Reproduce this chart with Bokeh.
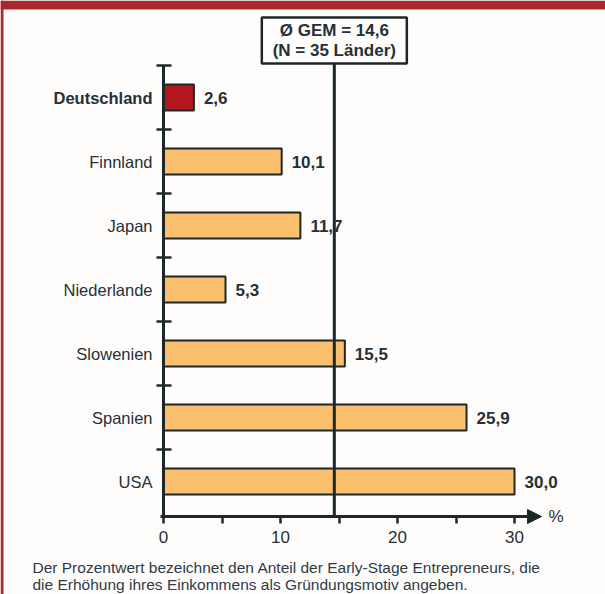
from bokeh.plotting import figure
from bokeh.models import ColumnDataSource, LinearAxis, FixedTicker, Arrow, NormalHead, Range1d
from bokeh.core.properties import value
from bokeh.embed import file_html
from bokeh.resources import INLINE

# ---------------- data ----------------
countries = ["Deutschland", "Finnland", "Japan", "Niederlande", "Slowenien", "Spanien", "USA"]
shares = [2.6, 10.1, 11.7, 5.3, 15.5, 25.9, 30.0]
highlight = ["Deutschland"]
gem_mean = 14.6
gem_countries = 35
x_ticks = [0, 10, 20, 30]
x_minor_ticks = [5, 15, 25]
axis_unit = "%"
caption = ("Der Prozentwert bezeichnet den Anteil der Early-Stage Entrepreneurs, die\n"
           "die Erhöhung ihres Einkommens als Gründungsmotiv angeben.")

# ---------------- style ----------------
W, H = 605, 594
X0_PX, PX_PER_X = 163, 11.7       # screen position of x = 0, pixels per percent
Y0_PX, PX_PER_Y = 481, 64         # screen position of last category, pixels per category
BG = "#FEFDFB"
DARK = "#1C2828"
TXT = "#263036"
ORANGE = "#FBC06E"
RED = "#B3171D"
BAND = "#A8282E"
FONT = value("Liberation Sans")

def px_x(px):
    return (px - X0_PX) / PX_PER_X

def px_y(py):
    return (Y0_PX - py) / PX_PER_Y

n = len(countries)
ypos = [n - 1 - i for i in range(n)]
fills = [RED if c in highlight else ORANGE for c in countries]
styles = ["bold" if c in highlight else "normal" for c in countries]
vlabels = [f"{v:.1f}".replace(".", ",") for v in shares]

src = ColumnDataSource(dict(country=countries, share=shares, y=ypos, fill=fills,
                            style=styles, vlabel=vlabels, zero=[0] * n,
                            tick_y=[y + 0.5 for y in ypos]))

axis_y = px_y(516)

p = figure(width=W, height=H,
           x_range=Range1d(px_x(0), px_x(W)), y_range=Range1d(px_y(H), px_y(0)),
           output_backend="svg", toolbar_location=None,
           x_axis_location=None, y_axis_location=None, min_border=0,
           background_fill_color=BG, border_fill_color=BG, outline_line_color=None)
p.xgrid.visible = False
p.ygrid.visible = False

# decorative frame: red band on top, red line on the left
p.quad(left=px_x(0), right=px_x(W), bottom=px_y(9), top=px_y(0), fill_color=BAND, line_color=None)
p.quad(left=px_x(0), right=px_x(3), bottom=px_y(H), top=px_y(0), fill_color=BAND, line_color=None)

# bars
p.hbar(y="y", left="zero", right="share", height=0.41, source=src,
       fill_color="fill", line_color=DARK, line_width=2)

# vertical category axis with ticks between categories
p.segment(x0=0, y0=axis_y, x1=0, y1=n - 0.5, line_color=DARK, line_width=3)
p.segment(x0=px_x(156), x1=px_x(171), y0="tick_y", y1="tick_y", source=src,
          line_color=DARK, line_width=2.5)

# mean line and box
box_bottom, box_top = px_y(63), px_y(17)
p.segment(x0=gem_mean, y0=axis_y, x1=gem_mean, y1=box_bottom, line_color=DARK, line_width=3)
p.rect(x=gem_mean, y=(box_top + box_bottom) / 2, width=145 / PX_PER_X,
       height=box_top - box_bottom, fill_color=BG, line_color=DARK, line_width=2.5)
p.text(x=[gem_mean], y=[(box_top + box_bottom) / 2],
       text=[f"Ø GEM = {gem_mean:.1f}".replace(".", ",") + f"\n(N = {gem_countries} Länder)"],
       text_align="center", text_baseline="middle", text_font=FONT,
       text_font_size="17px", text_font_style="bold", text_color=TXT, text_line_height=1.05)

# value labels
p.text(x="share", y="y", text="vlabel", source=src, x_offset=10,
       text_align="left", text_baseline="middle", text_font=FONT,
       text_font_size="17px", text_font_style="bold", text_color=TXT)

# category labels
p.text(x="zero", y="y", text="country", source=src, x_offset=-11,
       text_align="right", text_baseline="middle", text_font=FONT,
       text_font_size="16.5px", text_font_style="style", text_color=TXT)

# x axis with arrow
p.add_layout(Arrow(end=NormalHead(size=14, fill_color=DARK, line_color=DARK),
                   x_start=px_x(160), y_start=axis_y, x_end=px_x(541), y_end=axis_y,
                   line_color=DARK, line_width=3))
xaxis = LinearAxis(fixed_location=axis_y,
                   ticker=FixedTicker(ticks=x_ticks, minor_ticks=x_minor_ticks),
                   axis_line_color=None,
                   major_tick_in=0, major_tick_out=7, minor_tick_in=0, minor_tick_out=7,
                   major_tick_line_color=DARK, minor_tick_line_color=DARK,
                   major_tick_line_width=2.5, minor_tick_line_width=2.5,
                   major_label_standoff=7, major_label_text_font="Liberation Sans",
                   major_label_text_font_size="17px", major_label_text_color=TXT)
p.add_layout(xaxis, "below")
p.text(x=[px_x(548)], y=[axis_y], text=[axis_unit], text_align="left", text_baseline="middle",
       text_font=FONT, text_font_size="17px", text_color=TXT)

# caption
p.text(x=[px_x(32)], y=[px_y(558)], text=[caption], text_align="left", text_baseline="top",
       text_font=FONT, text_font_size="15.5px", text_color="#2E3B48", text_line_height=1.05)

open("out.html", "w").write(file_html(p, INLINE))
